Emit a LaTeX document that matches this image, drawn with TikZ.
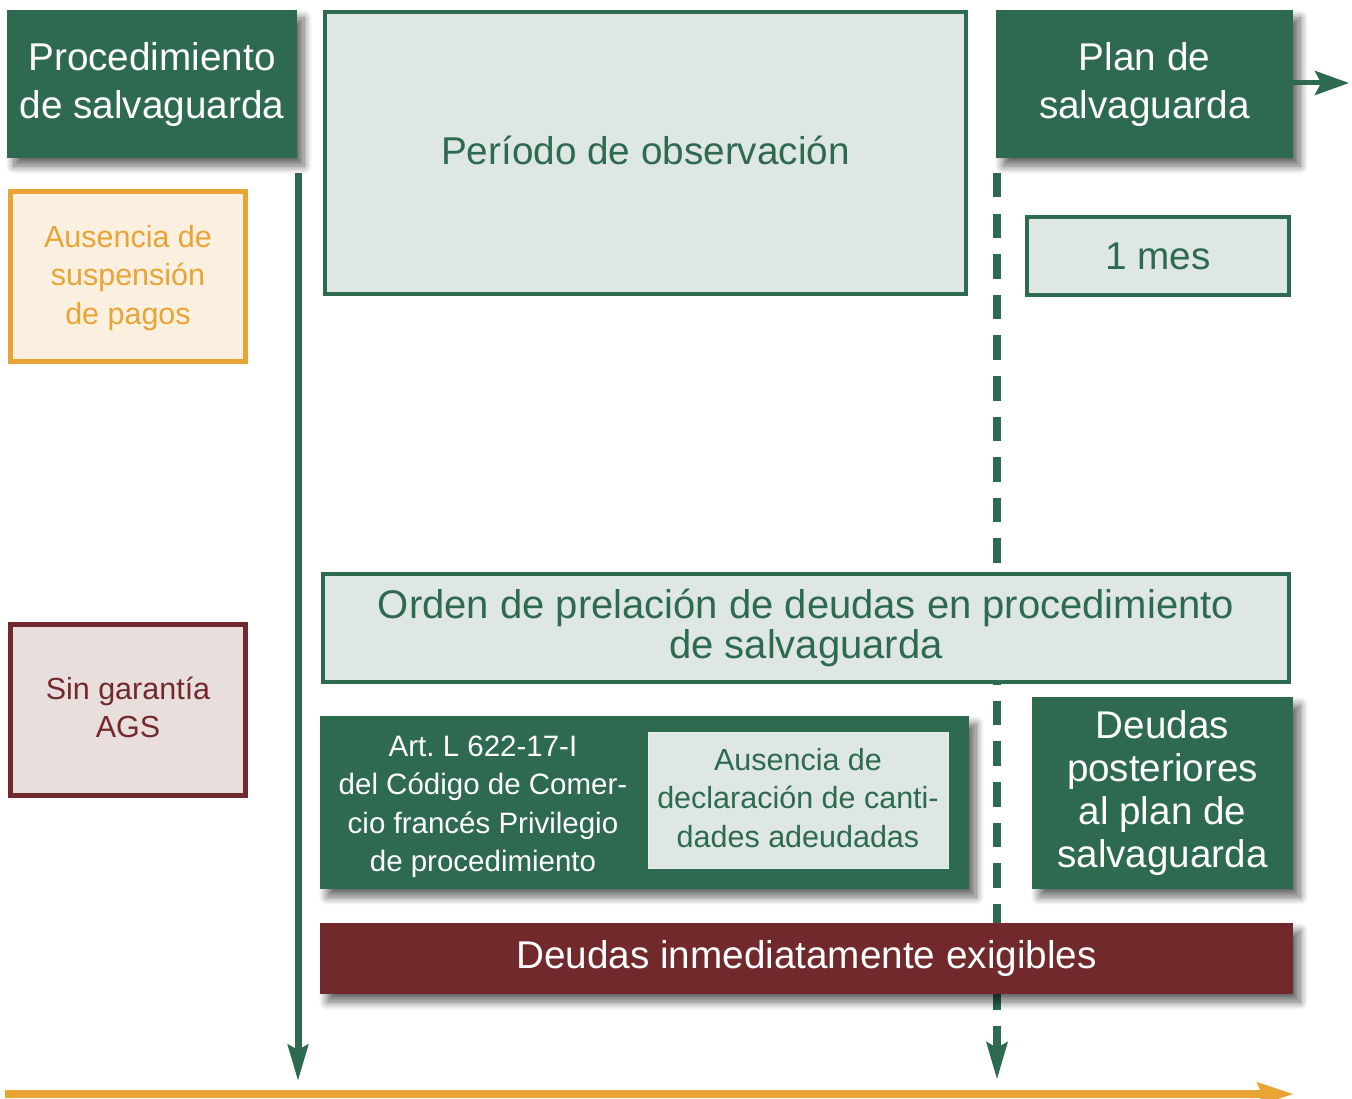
\documentclass[tikz,border=0pt]{standalone}
\usepackage{fontspec}
\setmainfont{Liberation Sans}
\usetikzlibrary{arrows.meta,shadows.blur}
\definecolor{gdark}{RGB}{45,106,79}
\definecolor{glight}{RGB}{222,231,227}
\definecolor{orng}{RGB}{232,164,52}
\definecolor{orngfill}{RGB}{251,240,224}
\definecolor{rdark}{RGB}{114,41,43}
\definecolor{rfill}{RGB}{232,222,222}
\newcommand\fsBig{\fontsize{38.7}{48}\selectfont}
\newcommand\fsOrd{\fontsize{40}{40}\selectfont}
\newcommand\fsMid{\fontsize{38.6}{43}\selectfont}
\newcommand\fsSm{\fontsize{30.5}{38.5}\selectfont}
\newcommand\fsArt{\fontsize{29.5}{38.5}\selectfont}
\frenchspacing
\tikzset{
  shadowed/.style={blur shadow={shadow xshift=7pt, shadow yshift=-8pt, shadow blur radius=8pt, shadow blur steps=12, shadow opacity=60}},
  darkbox/.style={fill=gdark, text=white, inner sep=0pt, align=center, shadowed},
  redbox/.style={fill=rdark, text=white, inner sep=0pt, align=center, shadowed},
  lightbox/.style={draw=gdark, line width=4pt, fill=glight, text=gdark, inner sep=0pt, align=center},
  orangebox/.style={draw=orng, line width=5pt, fill=orngfill, text=orng, inner sep=0pt, align=center},
  wineframe/.style={draw=rdark, line width=5pt, fill=rfill, text=rdark, inner sep=0pt, align=center},
  timeline/.style={draw=gdark, line width=7pt, -{Stealth[length=36pt,width=20pt,inset=5pt]}},
  dashline/.style={draw=gdark, line width=8pt, dash pattern=on 24.5pt off 16.1pt, -{Stealth[length=37pt,width=20pt,inset=5pt]}},
}
\begin{document}
\begin{tikzpicture}[x=1pt,y=-1pt]
\useasboundingbox (0,0) rectangle (1352,1099);
% timeline coordinates
\coordinate (s1) at (298,173);
\coordinate (e1) at (298,1081);
\coordinate (s2) at (997,173);
\coordinate (e2) at (997,1080);
\coordinate (o1) at (5,1094);
\coordinate (o2) at (1294,1094);
\draw[timeline] (s1) -- (e1);
\draw[dashline] (s2) -- (e2);
\draw[draw=orng, line width=8pt, -{Stealth[length=36pt,width=22pt,inset=4pt]}] (o1) -- (o2);

% top row
\node[darkbox, font=\fsBig, minimum width=290pt, minimum height=148pt] (proc) at (152,84)
  {Procedimiento\\de salvaguarda};
\node[lightbox, minimum width=641pt, minimum height=282pt] (obs) at (645.5,153) {};
\node[text=gdark, font=\fsBig] (obst) at (645.5,150) {Período de observación};
\node[darkbox, font=\fsBig, minimum width=297pt, minimum height=148pt] (plan) at (1144.5,84)
  {Plan de\\salvaguarda};
\coordinate (pa) at (1349,83);
\draw[draw=gdark, line width=5pt, -{Stealth[length=34pt,width=24pt,inset=6pt]}] (plan.east |- pa) -- (pa);

\node[orangebox, font=\fsSm, minimum width=235pt, minimum height=170pt] (aus) at (128,276.5) {};
\node[text=orng, font=\fsSm, align=center, inner sep=0pt] (aust) at (128,278)
  {Ausencia de\\suspensión\\de pagos};
\node[lightbox, font=\fsBig, minimum width=262pt, minimum height=78pt] (mes) at (1158,256)
  {1 mes};

% middle
\node[lightbox, font=\fsOrd, minimum width=966pt, minimum height=108pt] (orden) at (806,628)
  {Orden de prelación de deudas en procedimiento\\de salvaguarda};
\node[wineframe, minimum width=235pt, minimum height=171pt] (sin) at (128,710) {};
\node[text=rdark, font=\fsSm, align=center, inner sep=0pt] (sint) at (128,707.5)
  {Sin garantía\\AGS};

\node[darkbox, minimum width=649pt, minimum height=173pt] (art) at (644.5,802.5) {};
\node[text=white, align=center, inner sep=0pt, font=\fsArt] (artt) at (483,807)
  {Art. L 622-17-I\\del Código de Comer-\\cio francés Privilegio\\de procedimiento};
\node[fill=glight, draw=glight!70!white, line width=1pt, inner sep=0pt,
  minimum width=300pt, minimum height=136pt] (decl) at (798,800) {};
\node[text=gdark, align=center, inner sep=0pt, font=\fsSm] (declt) at (798,798)
  {Ausencia de\\declaración de canti-\\dades adeudadas};

\node[darkbox, font=\fsMid, minimum width=261pt, minimum height=192pt] (post) at (1162.5,793)
  {Deudas\\posteriores\\al plan de\\salvaguarda};

\node[redbox, font=\fsBig, minimum width=973pt, minimum height=71pt] (inm) at (806.5,958.5)
  {Deudas inmediatamente exigibles};
\end{tikzpicture}
\end{document}
